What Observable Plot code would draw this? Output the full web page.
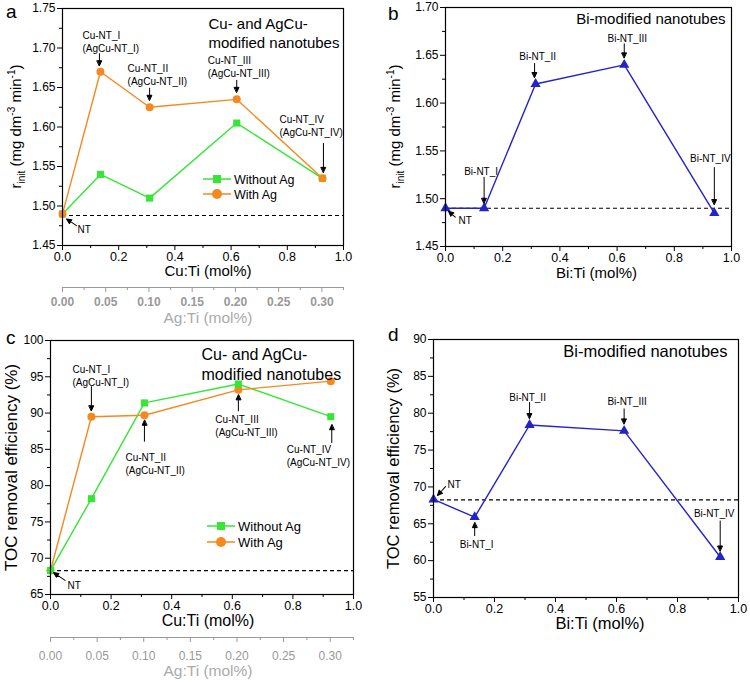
<!DOCTYPE html>
<html>
<head>
<meta charset="utf-8">
<script src="https://cdn.jsdelivr.net/npm/d3@7"></script>
<script src="https://cdn.jsdelivr.net/npm/@observablehq/plot@0.6"></script>
<style>
  body { margin: 0; background: #fff; }
  #root { position: relative; width: 750px; height: 686px; font-family: "Liberation Sans", Arial, sans-serif; }
  #root > svg { position: absolute; overflow: visible; }
</style>
</head>
<body>
<div id="root"></div>
<script>
// ---------------- DATA ----------------
const cuRatio = [0, 0.135, 0.31, 0.62, 0.925];          // Cu:Ti (mol%)
const biRatio = [0, 0.135, 0.315, 0.625, 0.94];         // Bi:Ti (mol%)
const seriesNames = ["Without Ag", "With Ag"];
const rInitWithoutAg = [1.49, 1.54, 1.51, 1.605, 1.535];
const rInitWithAg    = [1.49, 1.67, 1.625, 1.635, 1.535];
const rInitBi        = [1.49, 1.49, 1.62, 1.64, 1.485];
const tocWithoutAg   = [68.3, 78.2, 91.4, 94.0, 89.5];
const tocWithAg      = [68.3, 89.5, 89.7, 93.2, 94.4];
const tocBi          = [68.3, 65.9, 78.4, 77.6, 60.5];
const rInitCuBaseline = 1.488;
const rInitBiBaseline = 1.49;
const tocCuBaseline = 68.3;
const tocBiBaseline = 68.25;

const cuLabels = ["NT", "Cu-NT_I\n(AgCu-NT_I)", "Cu-NT_II\n(AgCu-NT_II)", "Cu-NT_III\n(AgCu-NT_III)", "Cu-NT_IV\n(AgCu-NT_IV)"];
const biLabels = ["NT", "Bi-NT_I", "Bi-NT_II", "Bi-NT_III", "Bi-NT_IV"];

const ratioTicks = [0, 0.2, 0.4, 0.6, 0.8, 1.0];
const ratioMinor = [0.1, 0.3, 0.5, 0.7, 0.9];
const agTicks = [0, 0.05, 0.10, 0.15, 0.20, 0.25, 0.30];
const agMinor = [0.025, 0.075, 0.125, 0.175, 0.225, 0.275, 0.325];
const agMax = 0.325;
const rTicksA = [1.45, 1.50, 1.55, 1.60, 1.65, 1.70, 1.75];
const rMinorA = [1.475, 1.525, 1.575, 1.625, 1.675, 1.725];
const rTicksB = [1.45, 1.50, 1.55, 1.60, 1.65, 1.70];
const rMinorB = [1.475, 1.525, 1.575, 1.625, 1.675];
const tocTicksC = [65, 70, 75, 80, 85, 90, 95, 100];
const tocMinorC = [67.5, 72.5, 77.5, 82.5, 87.5, 92.5, 97.5];
const tocTicksD = [55, 60, 65, 70, 75, 80, 85, 90];
const tocMinorD = [57.5, 62.5, 67.5, 72.5, 77.5, 82.5, 87.5];

// ---------------- STYLE ----------------
const FONT = '"Liberation Sans", Arial, sans-serif';
const GREEN = "#35e635";
const ORANGE = "#f5891f";
const BLUE = "#2323c8";

const root = document.getElementById("root");
const pts = (xs, ys) => xs.map((x, i) => ({x, y: ys[i]}));

const arrowHead = {
  draw(ctx, l) {
    const h = 5, w = 2.3;
    ctx.moveTo(0, 0);
    ctx.lineTo(0, -l + h);
    ctx.moveTo(0, -l);
    ctx.lineTo(-w, -l + h);
    ctx.lineTo(w, -l + h);
    ctx.closePath();
  }
};

// annotation layout (pixel offsets relative to the data point)
function annotations(xs, ys, labels, layout) {
  return layout.flatMap(L => {
    const d = [{x: xs[L.i], y: ys[L.i], label: labels[L.i]}];
    return [
      Plot.text(d, {x: "x", y: "y", text: "label", dx: L.tdx, dy: L.tdy, textAnchor: L.ta, lineAnchor: L.la,
        fontSize: 10, lineHeight: 1.3, fill: "black"}),
      Plot.vector(d, {x: "x", y: "y", dx: L.adx, dy: L.ady, length: L.len, rotate: L.rot, anchor: "end",
        shape: arrowHead, stroke: "black", strokeWidth: 1, fill: "black"})
    ];
  });
}

function axes(yTicks, yMinor, yFmt) {
  return [
    Plot.axisX({ticks: ratioTicks, tickSize: 5, tickPadding: 1.5, fontSize: 12.5, tickFormat: d => d.toFixed(1), label: null}),
    Plot.axisX({ticks: ratioMinor, tickSize: 3, tickFormat: () => "", label: null}),
    Plot.axisY({ticks: yTicks, tickSize: 5, tickPadding: 2, fontSize: 12, tickFormat: yFmt, label: null}),
    Plot.axisY({ticks: yMinor, tickSize: 3, tickFormat: () => "", label: null})
  ];
}

function place(svg, left, top) {
  svg.style.left = left + "px";
  svg.style.top = top + "px";
  root.appendChild(svg);
  return svg;
}

function addLegend(svg, x0, y0, gap, fontSize) {
  const g = d3.select(svg).append("g");
  const rows = [{label: seriesNames[0], color: GREEN, sym: "square"}, {label: seriesNames[1], color: ORANGE, sym: "circle"}];
  rows.forEach((r, k) => {
    const y = y0 + k * gap;
    g.append("line").attr("x1", x0).attr("x2", x0 + 28).attr("y1", y).attr("y2", y)
      .attr("stroke", r.color).attr("stroke-width", 1.5);
    if (r.sym === "square") g.append("rect").attr("x", x0 + 14 - 4).attr("y", y - 4).attr("width", 8).attr("height", 8).attr("fill", r.color);
    else g.append("circle").attr("cx", x0 + 14).attr("cy", y).attr("r", 5).attr("fill", r.color);
    g.append("text").attr("x", x0 + 31).attr("y", y).attr("dy", "0.36em").attr("font-size", fontSize)
      .attr("text-anchor", "start").attr("font-family", FONT).attr("fill", "black").text(r.label);
  });
}

function addRinitLabel(svg, x, y) {
  const t = d3.select(svg).append("text").attr("transform", `translate(${x},${y}) rotate(-90)`)
    .attr("text-anchor", "middle").attr("font-size", 15).attr("font-family", FONT).attr("fill", "black");
  t.append("tspan").text("r");
  t.append("tspan").attr("font-size", 10).attr("dy", 4).text("init");
  t.append("tspan").attr("dy", -4).text(" (mg dm");
  t.append("tspan").attr("font-size", 10).attr("dy", -6).text("-3");
  t.append("tspan").attr("dy", 6).text(" min");
  t.append("tspan").attr("font-size", 10).attr("dy", -6).text("-1");
  t.append("tspan").attr("dy", 6).text(")");
}

function agAxis(mLeft, mRight, padding, bold, labelDy, labelDx) {
  return Plot.plot({
    width: 375, height: 51, marginTop: 0, marginBottom: 50, marginLeft: mLeft, marginRight: mRight,
    x: {domain: [0, agMax]}, y: {domain: [0, 1], axis: null},
    style: {fontFamily: FONT, color: "#999", background: "transparent", overflow: "visible"},
    marks: [
      Plot.ruleY([0], {stroke: "#999", strokeWidth: 1}),
      Plot.axisX({ticks: agTicks, tickSize: 5, tickPadding: padding, fontSize: 12, fontWeight: bold ? "bold" : "normal",
        tickFormat: d => d.toFixed(2), label: null}),
      Plot.axisX({ticks: agMinor, tickSize: 3, tickFormat: () => "", label: null}),
      Plot.text(["Ag:Ti (mol%)"], {frameAnchor: "bottom", textAnchor: "middle", dy: labelDy, dx: labelDx, fontSize: 15.5, fill: "#aaa"})
    ]
  });
}

const commonStyle = {fontFamily: FONT, background: "transparent", overflow: "visible", color: "black"};

// ---------------- PANEL A ----------------
const layoutA = [
  {i: 0, tdx: 15, tdy: 15, ta: "start", la: "middle", adx: 4, ady: 5, len: 12, rot: -56},
  {i: 1, tdx: -18, tdy: -20, ta: "start", la: "bottom", adx: -1, ady: -6, len: 12, rot: 180},
  {i: 2, tdx: -22, tdy: -22, ta: "start", la: "bottom", adx: 0, ady: -7, len: 12, rot: 180},
  {i: 3, tdx: -29, tdy: -22, ta: "start", la: "bottom", adx: 0, ady: -7, len: 12, rot: 180},
  {i: 4, tdx: -43, tdy: -42, ta: "start", la: "bottom", adx: 1, ady: -6, len: 29, rot: 180}
];
const plotA = Plot.plot({
  width: 375, height: 285, marginLeft: 62, marginRight: 32, marginTop: 8, marginBottom: 40,
  x: {domain: [0, 1]}, y: {domain: [1.45, 1.75]},
  style: commonStyle,
  marks: [
    ...axes(rTicksA, rMinorA, d => d.toFixed(2)),
    Plot.ruleY([rInitCuBaseline], {stroke: "black", strokeWidth: 1.2, strokeDasharray: "4,3"}),
    Plot.line(pts(cuRatio, rInitWithoutAg), {x: "x", y: "y", stroke: GREEN, strokeWidth: 1.4}),
    Plot.line(pts(cuRatio, rInitWithAg), {x: "x", y: "y", stroke: ORANGE, strokeWidth: 1.4}),
    Plot.dot(pts(cuRatio, rInitWithoutAg), {x: "x", y: "y", symbol: "square", r: 4, fill: GREEN}),
    Plot.dot(pts(cuRatio, rInitWithAg), {x: "x", y: "y", symbol: "circle", r: 4, fill: ORANGE}),
    ...annotations(cuRatio, rInitWithAg, cuLabels, layoutA),
    Plot.text(["Cu- and AgCu-\nmodified nanotubes"], {frameAnchor: "top-left", textAnchor: "start", lineAnchor: "top",
      dx: 146, dy: 7, fontSize: 15, lineHeight: 1.27, fill: "black"}),
    Plot.text(["Cu:Ti (mol%)"], {frameAnchor: "bottom", textAnchor: "middle", dy: 30, dx: 5, fontSize: 15, fill: "black"}),
    Plot.frame({stroke: "black", strokeWidth: 1.2})
  ]
});
addLegend(plotA, 203, 179, 15, 12.5);
addRinitLabel(plotA, 21, 126.5);
place(plotA, 0, 0);
place(agAxis(62, 32, 5, true, 35, 5), 0, 286);

// ---------------- PANEL B ----------------
const layoutB = [
  {i: 0, tdx: 13, tdy: 12, ta: "start", la: "middle", adx: 3, ady: 3, len: 9, rot: -49},
  {i: 1, tdx: -3, tdy: -33, ta: "middle", la: "bottom", adx: 0, ady: -5, len: 26, rot: 180},
  {i: 2, tdx: 2, tdy: -24, ta: "middle", la: "bottom", adx: -1, ady: -6.5, len: 14, rot: 180},
  {i: 3, tdx: 3, tdy: -23, ta: "middle", la: "bottom", adx: 0, ady: -7, len: 14, rot: 180},
  {i: 4, tdx: -4, tdy: -51, ta: "middle", la: "bottom", adx: 0, ady: -8.5, len: 37, rot: 180}
];
const plotB = Plot.plot({
  width: 375, height: 285, marginLeft: 70, marginRight: 19, marginTop: 7, marginBottom: 39,
  x: {domain: [0, 1]}, y: {domain: [1.45, 1.70]},
  style: commonStyle,
  marks: [
    ...axes(rTicksB, rMinorB, d => d.toFixed(2)),
    Plot.ruleY([rInitBiBaseline], {stroke: "black", strokeWidth: 1.2, strokeDasharray: "4,3"}),
    Plot.line(pts(biRatio, rInitBi), {x: "x", y: "y", stroke: BLUE, strokeWidth: 1.4}),
    Plot.dot(pts(biRatio, rInitBi), {x: "x", y: "y", symbol: "triangle", r: 3.8, fill: BLUE}),
    ...annotations(biRatio, rInitBi, biLabels, layoutB),
    Plot.text(["Bi-modified nanotubes"], {frameAnchor: "top-right", textAnchor: "end", lineAnchor: "top",
      dx: -6, dy: 6, fontSize: 15, fill: "black"}),
    Plot.text(["Bi:Ti (mol%)"], {frameAnchor: "bottom", textAnchor: "middle", dy: 31, dx: 8, fontSize: 15, fill: "black"}),
    Plot.frame({stroke: "black", strokeWidth: 1.2})
  ]
});
addRinitLabel(plotB, 25, 126.5);
place(plotB, 375, 0);

// ---------------- PANEL C ----------------
const layoutC = [
  {i: 0, tdx: 17, tdy: 14, ta: "start", la: "middle", adx: 3, ady: 2, len: 14, rot: -56, ys: tocWithAg},
  {i: 1, tdx: -19, tdy: -31, ta: "start", la: "bottom", adx: 0, ady: -6, len: 24, rot: 180, ys: tocWithAg},
  {i: 2, tdx: -19, tdy: 37, ta: "start", la: "top", adx: 0, ady: 5, len: 21, rot: 0, ys: tocWithAg},
  {i: 3, tdx: -23, tdy: 24, ta: "start", la: "top", adx: 0, ady: 5, len: 16, rot: 0, ys: tocWithAg},
  {i: 4, tdx: -44, tdy: 27, ta: "start", la: "top", adx: 1, ady: 8, len: 18, rot: 0, ys: tocWithoutAg}
];
const plotC = Plot.plot({
  width: 375, height: 304, marginLeft: 50, marginRight: 22, marginTop: 10, marginBottom: 40,
  x: {domain: [0, 1]}, y: {domain: [65, 100]},
  style: commonStyle,
  marks: [
    ...axes(tocTicksC, tocMinorC, d => d.toFixed(0)),
    Plot.ruleY([tocCuBaseline], {stroke: "black", strokeWidth: 1.2, strokeDasharray: "4,3"}),
    Plot.line(pts(cuRatio, tocWithoutAg), {x: "x", y: "y", stroke: GREEN, strokeWidth: 1.4}),
    Plot.line(pts(cuRatio, tocWithAg), {x: "x", y: "y", stroke: ORANGE, strokeWidth: 1.4}),
    Plot.dot(pts(cuRatio, tocWithAg), {x: "x", y: "y", symbol: "circle", r: 4, fill: ORANGE}),
    Plot.dot(pts(cuRatio, tocWithoutAg), {x: "x", y: "y", symbol: "square", r: 4, fill: GREEN}),
    ...layoutC.flatMap(L => annotations(cuRatio, L.ys, cuLabels, [L])),
    Plot.text(["Cu- and AgCu-\nmodified nanotubes"], {frameAnchor: "top-left", textAnchor: "start", lineAnchor: "top",
      dx: 151, dy: 5, fontSize: 16, lineHeight: 1.25, fill: "black"}),
    Plot.text(["Cu:Ti (mol%)"], {frameAnchor: "bottom", textAnchor: "middle", dy: 31, dx: 6, fontSize: 16, fill: "black"}),
    Plot.text(["TOC removal efficiency (%)"], {frameAnchor: "left", textAnchor: "middle", lineAnchor: "middle", rotate: -90, dx: -39, fontSize: 17, fill: "black"}),
    Plot.frame({stroke: "black", strokeWidth: 1.2})
  ]
});
addLegend(plotC, 207, 196, 16, 13);
place(plotC, 0, 330);
place(agAxis(50, 22, 9, false, 38, 6), 0, 636);

// ---------------- PANEL D ----------------
const layoutD = [
  {i: 0, tdx: 14, tdy: -16, ta: "start", la: "middle", adx: 4, ady: -4, len: 12, rot: -138},
  {i: 1, tdx: 2, tdy: 22, ta: "middle", la: "top", adx: 0, ady: 5.5, len: 13, rot: 0},
  {i: 2, tdx: -2, tdy: -24, ta: "middle", la: "bottom", adx: 0, ady: -6.5, len: 16, rot: 180},
  {i: 3, tdx: 3, tdy: -26, ta: "middle", la: "bottom", adx: 0, ady: -7, len: 15, rot: 180},
  {i: 4, tdx: -6, tdy: -40, ta: "middle", la: "bottom", adx: 0, ady: -6, len: 30, rot: 180}
];
const plotD = Plot.plot({
  width: 375, height: 307, marginLeft: 58, marginRight: 12, marginTop: 9, marginBottom: 40,
  x: {domain: [0, 1]}, y: {domain: [55, 90]},
  style: commonStyle,
  marks: [
    ...axes(tocTicksD, tocMinorD, d => d.toFixed(0)),
    Plot.ruleY([tocBiBaseline], {stroke: "black", strokeWidth: 1.2, strokeDasharray: "4,3"}),
    Plot.line(pts(biRatio, tocBi), {x: "x", y: "y", stroke: BLUE, strokeWidth: 1.4}),
    Plot.dot(pts(biRatio, tocBi), {x: "x", y: "y", symbol: "triangle", r: 3.8, fill: BLUE}),
    ...annotations(biRatio, tocBi, biLabels, layoutD),
    Plot.text(["Bi-modified nanotubes"], {frameAnchor: "top-right", textAnchor: "end", lineAnchor: "top",
      dx: -11, dy: 6, fontSize: 16.5, fill: "black"}),
    Plot.text(["Bi:Ti (mol%)"], {frameAnchor: "bottom", textAnchor: "middle", dy: 31, dx: 14, fontSize: 16.5, fill: "black"}),
    Plot.text(["TOC removal efficiency (%)"], {frameAnchor: "left", textAnchor: "middle", lineAnchor: "middle", rotate: -90, dx: -40, fontSize: 16.5, fill: "black"}),
    Plot.frame({stroke: "black", strokeWidth: 1.2})
  ]
});
place(plotD, 375, 330);

// ---------------- PANEL LETTERS ----------------
const letters = d3.select(root).append("svg").attr("width", 750).attr("height", 686)
  .style("left", "0px").style("top", "0px").style("pointer-events", "none");
[["a", 6, 18], ["b", 388, 20], ["c", 6, 344], ["d", 388, 341]].forEach(([t, x, y]) => {
  letters.append("text").attr("x", x).attr("y", y).attr("font-size", 19).attr("font-family", FONT).attr("fill", "black").text(t);
});
</script>
</body>
</html>
